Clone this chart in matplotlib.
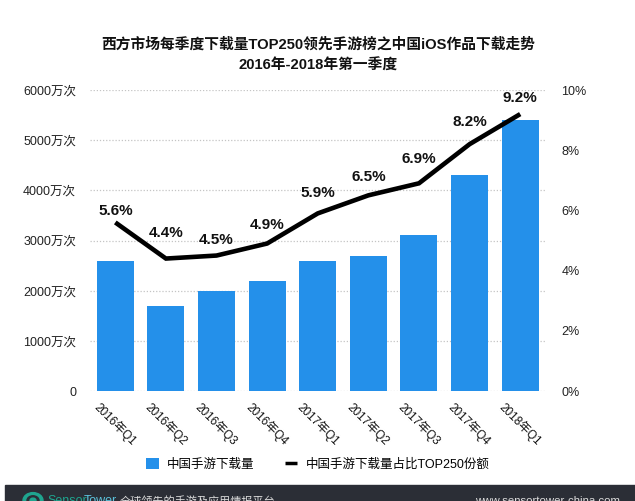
import numpy as np
import matplotlib
matplotlib.use("Agg")
import matplotlib.pyplot as plt
from matplotlib.patches import Rectangle, Circle

plt.rcParams['font.family'] = ['Liberation Sans', 'Noto Sans CJK SC']

# data
quarters = ["2016年Q1", "2016年Q2", "2016年Q3", "2016年Q4", "2017年Q1",
            "2017年Q2", "2017年Q3", "2017年Q4", "2018年Q1"]
downloads = [2600, 1700, 2000, 2200, 2600, 2700, 3100, 4300, 5400]
share = [5.6, 4.4, 4.5, 4.9, 5.9, 6.5, 6.9, 8.2, 9.2]
share_labels = ["5.6%", "4.4%", "4.5%", "4.9%", "5.9%", "6.5%", "6.9%", "8.2%", "9.2%"]
left_ticks = [0, 1000, 2000, 3000, 4000, 5000, 6000]
left_labels = ["0", "1000万次", "2000万次", "3000万次", "4000万次", "5000万次", "6000万次"]
right_ticks = [0, 2, 4, 6, 8, 10]
right_labels = ["0%", "2%", "4%", "6%", "8%", "10%"]

# how far each share label sits above its point, in pixels
label_lift = [11, 26, 16, 19, 20, 18, 24, 22, 16]

W, H = 635, 501
fig = plt.figure(figsize=(W / 100, H / 100), dpi=100)
ax = fig.add_axes([90 / W, 1 - 391 / H, 455.5 / W, 301 / H])
ax2 = ax.twinx()

x = np.arange(len(quarters))
ax.bar(x, downloads, width=0.73, color="#2490ea", zorder=2, label="中国手游下载量")
ax.set_xlim(-0.5, 8.5)
ax.set_ylim(0, 6000)
ax.set_yticks(left_ticks)
ax.set_yticklabels(left_labels, fontsize=9, color="#222222")
ax.set_xticks(x)
ax.set_xticklabels(quarters, fontsize=8.5, rotation=-45, ha="center", va="top", color="#111111")
ax.grid(axis="y", color="#c4c4c4", linestyle=(0, (1, 1.5)), linewidth=0.9, zorder=0)
ax.tick_params(axis="both", length=0)
ax.tick_params(axis="y", pad=10)
ax.tick_params(axis="x", pad=7)
ax.set_axisbelow(True)

ax2.plot(x, share, color="black", linewidth=3.3, solid_capstyle="butt",
         solid_joinstyle="miter", label="中国手游下载量占比TOP250份额")
ax2.set_ylim(0, 10)
ax2.set_yticks(right_ticks)
ax2.set_yticklabels(right_labels, fontsize=9, color="#222222")
ax2.tick_params(axis="y", length=0, pad=11.5)

for xi, yi, lab, lift in zip(x, share, share_labels, label_lift):
    ax2.annotate(lab, (xi, yi), xytext=(0, lift * 0.72), textcoords="offset points",
                 ha="center", va="center", fontsize=11, fontweight="bold", color="#111111")

for a in (ax, ax2):
    for s in a.spines.values():
        s.set_visible(False)

fig.text(318 / W, 1 - 44.5 / H, "西方市场每季度下载量TOP250领先手游榜之中国iOS作品下载走势",
         ha="center", va="center", fontsize=10.6, fontweight="bold", color="#111111")
fig.text(318 / W, 1 - 65.5 / H, "2016年-2018年第一季度",
         ha="center", va="center", fontsize=10.6, fontweight="bold", color="#111111")

h1, l1 = ax.get_legend_handles_labels()
h2, l2 = ax2.get_legend_handles_labels()
leg = fig.legend(h1 + h2, l1 + l2, loc="center", bbox_to_anchor=(318 / W, 1 - 464 / H),
                 ncol=2, frameon=False, fontsize=9, columnspacing=2.4,
                 handlelength=1.0, handleheight=1.0, handletextpad=0.7)
leg.get_lines()[0].set_linewidth(2.5)

# footer band, its text runs off the bottom of the picture as in the original
fig.add_artist(Rectangle((5 / W, 0), 630 / W, 16 / H, transform=fig.transFigure,
                         color="#2b2e36", zorder=5))
fig.add_artist(Circle((33 / W, 0.5 / H), 10 / W, transform=fig.transFigure,
                      color="#1fa58f", zorder=6))
fig.add_artist(Circle((33 / W, 0.5 / H), 6 / W, transform=fig.transFigure,
                      color="#2b2e36", zorder=6))
fig.add_artist(Circle((33 / W, 0.5 / H), 3 / W, transform=fig.transFigure,
                      color="#1fa58f", zorder=6))
fig.text(47 / W, 0, "Sensor", fontsize=9, color="#1fa58f", va="center",
         ha="left", zorder=6)
fig.text(84 / W, 0, "Tower", fontsize=9, color="#5cc3dc", va="center",
         ha="left", zorder=6)
fig.text(120 / W, 0, "全球领先的手游及应用情报平台", fontsize=8, color="#dddddd",
         va="center", ha="left", zorder=6)
fig.text(620 / W, 0, "www.sensortower-china.com", fontsize=8.2, color="#dddddd",
         va="center", ha="right", zorder=6)

fig.savefig("out.png", dpi=100)
